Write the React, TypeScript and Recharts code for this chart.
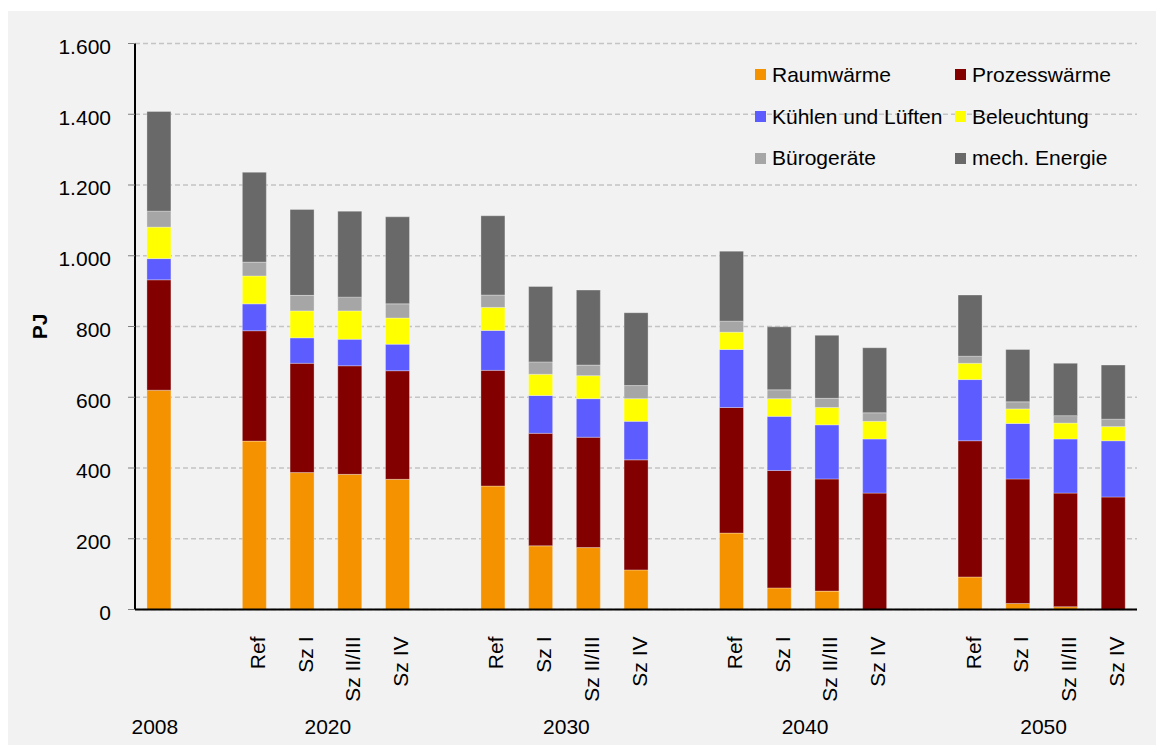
import React from 'react';
import { BarChart, Bar, XAxis, YAxis, CartesianGrid } from 'recharts';

const scenarios = ['', '', 'Ref', 'Sz I', 'Sz II/III', 'Sz IV', '', 'Ref', 'Sz I', 'Sz II/III', 'Sz IV', '', 'Ref', 'Sz I', 'Sz II/III', 'Sz IV', '', 'Ref', 'Sz I', 'Sz II/III', 'Sz IV'];
const raumwaerme = [620, null, 476, 387, 382, 368, null, 349, 180, 175, 112, null, 216, 61, 52, 0, null, 92, 17, 8, 0];
const prozesswaerme = [312, null, 312, 309, 307, 307, null, 327, 318, 312, 311, null, 355, 332, 317, 329, null, 385, 352, 321, 318];
const kuehlen = [60, null, 76, 72, 75, 75, null, 113, 107, 109, 109, null, 164, 153, 153, 153, null, 173, 157, 153, 159];
const beleuchtung = [89, null, 79, 76, 80, 74, null, 65, 60, 65, 64, null, 49, 50, 49, 50, null, 46, 41, 45, 40];
const buero = [45, null, 39, 44, 39, 40, null, 35, 35, 30, 37, null, 31, 25, 26, 24, null, 20, 20, 21, 21];
const mech = [282, null, 254, 243, 243, 246, null, 224, 213, 212, 206, null, 198, 178, 178, 184, null, 173, 148, 148, 153];

const yearLabels = ['2008', '2020', '2030', '2040', '2050'];
// first and last category index of each year group
const yearFirst = [0, 2, 7, 12, 17];
const yearLast = [0, 5, 10, 15, 20];
const yTicks = [0, 200, 400, 600, 800, 1000, 1200, 1400, 1600];

const seriesNames = ['Raumwärme', 'Prozesswärme', 'Kühlen und Lüften', 'Beleuchtung', 'Bürogeräte', 'mech. Energie'];
const seriesKeys = ['raum', 'proz', 'kuehl', 'bel', 'buero', 'mech'];
const seriesColors = ['#F59200', '#820000', '#5C5CFF', '#FFFF00', '#A6A6A6', '#696969'];
const seriesValues = [raumwaerme, prozesswaerme, kuehlen, beleuchtung, buero, mech];

const data = scenarios.map((s, i) => {
  const row: any = { label: s, idx: i };
  seriesKeys.forEach((k, j) => { row[k] = seriesValues[j][i]; });
  return row;
});

const FONT = '"Liberation Sans", Arial, sans-serif';
const CHART_W = 1156;
const CHART_H = 734;
const Y_W = 127;
const M_RIGHT = 27;
const BAND = (CHART_W - Y_W - M_RIGHT) / scenarios.length;

const fmt = (v: number) => String(v).replace(/\B(?=(\d{3})+(?!\d))/g, '.');

const YTick = (props: any) => {
  const { x, y, payload } = props;
  return (
    <text x={x} y={y + 3} dy="0.355em" textAnchor="end" fontSize={21} fill="#000" fontFamily={FONT}>
      {fmt(payload.value)}
    </text>
  );
};

const ScenarioTick = (props: any) => {
  const { x, y, payload } = props;
  const index = payload.index;
  const ty = y + 27;
  const g = yearFirst.indexOf(index);
  let year = null;
  if (g >= 0) {
    const cx = x + ((yearFirst[g] + yearLast[g]) / 2 - index) * BAND - (g === 0 ? 4 : -2);
    year = (
      <text x={cx} y={y + 124.5} textAnchor="middle" fontSize={21} fill="#000" fontFamily={FONT}>
        {yearLabels[g]}
      </text>
    );
  }
  return (
    <g>
      <text x={x} y={ty} dy="0.5em" textAnchor="end" fontSize={21} fill="#000" fontFamily={FONT}
        transform={`rotate(-90, ${x}, ${ty})`}>
        {payload.value}
      </text>
      {year}
    </g>
  );
};

const PJLabel = (props: any) => {
  const vb = props.viewBox || { x: 0, y: 0, width: 0, height: 0 };
  const cx = vb.x + 32;
  const cy = vb.y + vb.height / 2;
  return (
    <text x={cx} y={cy} dy="0.35em" textAnchor="middle" fontSize={21} fontWeight="bold" fill="#000"
      fontFamily={FONT} transform={`rotate(-90, ${cx}, ${cy})`}>
      PJ
    </text>
  );
};

const LegendBox = () => (
  <div style={{
    position: 'absolute', left: 747, top: 43, width: 400,
    display: 'grid', gridTemplateColumns: '200px 200px', gridAutoRows: '41.7px',
    fontFamily: FONT, fontSize: 21, color: '#000',
  }}>
    {seriesNames.map((n, i) => (
      <div key={n} style={{ display: 'flex', alignItems: 'center', whiteSpace: 'nowrap' }}>
        <span style={{ display: 'inline-block', width: 11, height: 11, background: seriesColors[i], marginRight: 6 }} />
        <span>{n}</span>
      </div>
    ))}
  </div>
);

export default function App() {
  return (
    <div style={{ paddingTop: 3 }}>
      <div style={{ position: 'relative', width: CHART_W, height: CHART_H, background: '#F2F2F2' }}>
        <BarChart width={CHART_W} height={CHART_H} data={data} barCategoryGap="25%"
          margin={{ top: 32.5, right: M_RIGHT, left: 0, bottom: 45.5 }}
          style={{ fontFamily: FONT }}>
          <CartesianGrid vertical={false} stroke="#C4C4C4" strokeDasharray="5 3" strokeWidth={1.5} />
          <XAxis dataKey="label" height={90} tickLine={false} tickSize={0} tickMargin={0}
            axisLine={{ stroke: '#000', strokeWidth: 2 }} tick={<ScenarioTick />} interval={0} />
          <YAxis width={Y_W} domain={[0, 1600]} ticks={yTicks} tickSize={7} tickMargin={17}
            axisLine={{ stroke: '#000', strokeWidth: 2 }} tickLine={{ stroke: '#808080' }} tick={<YTick />}
            label={<PJLabel />} interval={0} />
          {seriesKeys.map((k, i) => (
            <Bar key={k} dataKey={k} name={seriesNames[i]} stackId="a" fill={seriesColors[i]}
              stroke="#FFFFFF" strokeOpacity={0.3} strokeWidth={1} isAnimationActive={false} />
          ))}
        </BarChart>
        <LegendBox />
      </div>
    </div>
  );
}
